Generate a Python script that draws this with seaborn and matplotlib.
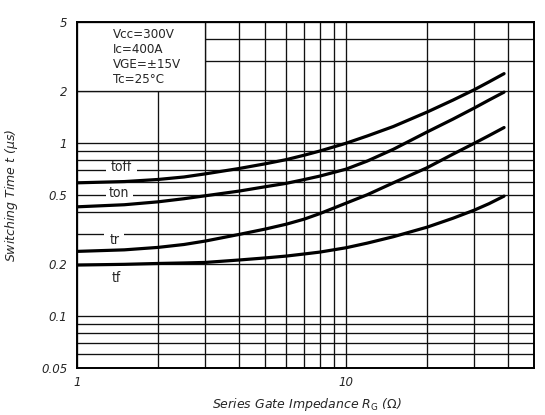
import numpy as np
import pandas as pd
import matplotlib
matplotlib.use("Agg")
import matplotlib.pyplot as plt
import seaborn as sns
from matplotlib.patches import Rectangle
from matplotlib.ticker import FixedLocator, FixedFormatter, NullFormatter

# ---- data ----
rg = [1, 1.5, 2, 2.5, 3, 4, 5, 6, 7, 8, 10, 12, 15, 20, 25, 30, 34, 38.7]
toff = [0.590, 0.600, 0.617, 0.638, 0.665, 0.714, 0.760, 0.804, 0.853, 0.902,
        1.000, 1.102, 1.250, 1.514, 1.778, 2.042, 2.265, 2.529]
ton = [0.4285, 0.4406, 0.458, 0.4775, 0.4966, 0.5284, 0.5598, 0.5861, 0.6166, 0.6457,
       0.7079, 0.7889, 0.9226, 1.161, 1.380, 1.600, 1.778, 1.977]
tr = [0.2366, 0.2415, 0.2495, 0.2594, 0.2716, 0.2965, 0.3184, 0.3400, 0.3639, 0.3917,
      0.4498, 0.5035, 0.5902, 0.7211, 0.8650, 1.000, 1.107, 1.233]
tf = [0.1972, 0.1991, 0.2014, 0.2028, 0.2042, 0.2109, 0.2168, 0.2223, 0.2286, 0.2344,
      0.2483, 0.2642, 0.2877, 0.3266, 0.3681, 0.4102, 0.4467, 0.4943]
curve_names = ["toff", "ton", "tr", "tf"]

x_major = [1, 10]
x_major_labels = ["1", "10"]
x_minor = [2, 3, 4, 5, 6, 7, 8, 9, 20, 30, 40]
y_major = [0.05, 0.1, 0.2, 0.5, 1, 2, 5]
y_major_labels = ["0.05", "0.1", "0.2", "0.5", "1", "2", "5"]
y_minor = [0.06, 0.07, 0.08, 0.09, 0.3, 0.4, 0.6, 0.7, 0.8, 0.9, 3, 4]
conditions = ["Vcc=300V", "Ic=400A", "VGE=\u00b115V", "Tc=25\u00b0C"]

df = pd.DataFrame({
    "Rg": rg * 4,
    "t": toff + ton + tr + tf,
    "curve": np.repeat(curve_names, len(rg)),
})

sns.set_style("white")
plt.rcParams['font.family'] = ['DejaVu Sans']
plt.rcParams['mathtext.fontset'] = 'dejavusans'

fig = plt.figure(figsize=(5.45, 4.15), dpi=100)
ax = fig.add_axes([77 / 545, 1 - 368 / 415, (534 - 77) / 545, (368 - 22.5) / 415])
ax.set_xscale('log')
ax.set_yscale('log')

sns.lineplot(data=df, x="Rg", y="t", hue="curve",
             palette={n: "black" for n in curve_names},
             estimator=None, sort=False, legend=False, lw=2.3, ax=ax, zorder=3)

ax.set_xlim(1, 50)
ax.set_ylim(0.05, 5)
ax.set_xlabel('')
ax.set_ylabel('')

ax.xaxis.set_major_locator(FixedLocator(x_major))
ax.xaxis.set_major_formatter(FixedFormatter(x_major_labels))
ax.xaxis.set_minor_locator(FixedLocator(x_minor))
ax.xaxis.set_minor_formatter(NullFormatter())
ax.yaxis.set_major_locator(FixedLocator(y_major))
ax.yaxis.set_major_formatter(FixedFormatter(y_major_labels))
ax.yaxis.set_minor_locator(FixedLocator(y_minor))
ax.yaxis.set_minor_formatter(NullFormatter())

ax.grid(which='both', color='#111111', lw=0.95)
ax.set_axisbelow(True)
ax.tick_params(which='both', length=0)
ax.tick_params(axis='x', pad=6)
ax.tick_params(axis='y', pad=7)
for lab in ax.get_xticklabels() + ax.get_yticklabels():
    lab.set_fontstyle('italic')
    lab.set_fontsize(8.5)

for s in ax.spines.values():
    s.set_color('black')
    s.set_linewidth(1.4)

# condition box (covers grid in top-left corner)
ax.add_patch(Rectangle((1, 2), 2, 3, facecolor='white', edgecolor='#111111',
                       lw=0.95, zorder=1))
for i, c in enumerate(conditions):
    ax.text(36 / 457, 1 - (12.5 + 15 * i) / 345.5, c, transform=ax.transAxes,
            fontsize=9.5, fontstretch='condensed', va='center', ha='left', zorder=4)

# curve labels with gaps in grid lines
label_specs = [
    ("toff", 1.464, 0.727, 1.282, 1.671, 0.67, 0.735),
    ("ton", 1.429, 0.514, 1.279, 1.619, 0.48, 0.53),
    ("tr", 1.384, 0.277, 1.26, 1.50, 0.285, 0.315),
    ("tf", 1.394, 0.165, None, None, None, None),
]
for txt, xc, yc, x0, x1, y0, y1 in label_specs:
    if x0 is not None:
        ax.add_patch(Rectangle((x0, y0), x1 - x0, y1 - y0, facecolor='white',
                               edgecolor='none', zorder=1))
    ax.text(xc, yc, txt, fontsize=10, fontstretch='condensed',
            ha='center', va='center', zorder=4)

fig.text(306.5 / 545, 1 - 404 / 415, r"Series Gate Impedance $R_{\mathrm{G}}$ ($\Omega$)",
         ha='center', va='center', fontsize=9, style='italic')
fig.text(12 / 545, 1 - 195 / 415, r"Switching Time $t$ ($\mu$s)", rotation=90,
         ha='center', va='center', fontsize=9, style='italic')

fig.savefig("out.png", dpi=100, facecolor='white')
